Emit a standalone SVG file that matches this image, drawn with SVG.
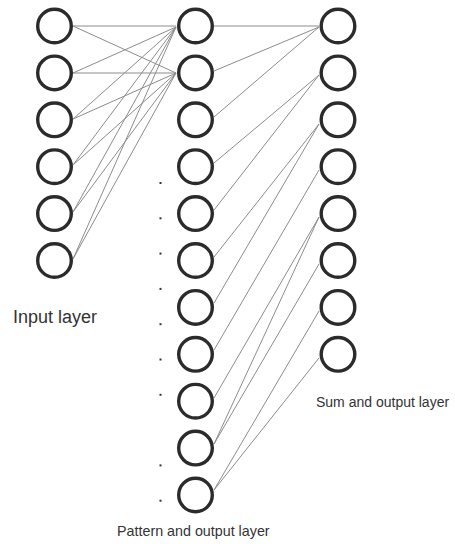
<svg xmlns="http://www.w3.org/2000/svg" width="455" height="544" viewBox="0 0 455 544">
  <style>
    .node { fill: none; stroke: #2b2b2b; stroke-width: 3.4; }
    .link { stroke: #8c8c8c; stroke-width: 1; fill: none; }
    .dot { fill: #333333; }
    .label { font-family: "Liberation Sans", Arial, sans-serif; fill: #333333; }
  </style>
  <rect width="455" height="544" fill="#ffffff"/>

  <!-- connectors -->
  <g id="connectors">
    <!-- input layer to first two pattern units -->
    <line class="link" x1="73" y1="26" x2="176" y2="26"/>
    <line class="link" x1="73" y1="26" x2="176" y2="73"/>
    <line class="link" x1="73" y1="73" x2="176" y2="27"/>
    <line class="link" x1="73" y1="73" x2="176" y2="73"/>
    <line class="link" x1="73" y1="119" x2="176" y2="27"/>
    <line class="link" x1="73" y1="119" x2="176" y2="73"/>
    <line class="link" x1="73" y1="165" x2="176" y2="27"/>
    <line class="link" x1="73" y1="165" x2="176" y2="73"/>
    <line class="link" x1="73" y1="212" x2="176" y2="27"/>
    <line class="link" x1="73" y1="212" x2="176" y2="73"/>
    <line class="link" x1="73" y1="259" x2="176" y2="27"/>
    <line class="link" x1="73" y1="259" x2="176" y2="73"/>
    <!-- pattern layer to sum layer -->
    <line class="link" x1="214" y1="26" x2="319" y2="26"/>
    <line class="link" x1="214" y1="71" x2="319" y2="27"/>
    <line class="link" x1="214" y1="117" x2="319" y2="27"/>
    <line class="link" x1="214" y1="163" x2="319" y2="75"/>
    <line class="link" x1="214" y1="210" x2="319" y2="75"/>
    <line class="link" x1="214" y1="257" x2="319" y2="124"/>
    <line class="link" x1="214" y1="303" x2="319" y2="124"/>
    <line class="link" x1="214" y1="350" x2="319" y2="170"/>
    <line class="link" x1="214" y1="398" x2="319" y2="217"/>
    <line class="link" x1="214" y1="444" x2="319" y2="217"/>
    <line class="link" x1="214" y1="444" x2="319" y2="264"/>
    <line class="link" x1="214" y1="490" x2="319" y2="311"/>
    <line class="link" x1="214" y1="490" x2="319" y2="358"/>
  </g>

  <!-- input layer -->
  <g id="input-1"><circle class="node" cx="54.5" cy="26" r="16.8"/></g>
  <g id="input-2"><circle class="node" cx="54.5" cy="72.9" r="16.8"/></g>
  <g id="input-3"><circle class="node" cx="54.5" cy="119.8" r="16.8"/></g>
  <g id="input-4"><circle class="node" cx="54.5" cy="166.7" r="16.8"/></g>
  <g id="input-5"><circle class="node" cx="54.5" cy="213.6" r="16.8"/></g>
  <g id="input-6"><circle class="node" cx="54.5" cy="260.5" r="16.8"/></g>

  <!-- pattern layer -->
  <g id="pattern-1"><circle class="node" cx="195.5" cy="26" r="16.8"/></g>
  <g id="pattern-2"><circle class="node" cx="195.5" cy="72.9" r="16.8"/></g>
  <g id="pattern-3"><circle class="node" cx="195.5" cy="119.8" r="16.8"/></g>
  <g id="pattern-4"><circle class="node" cx="195.5" cy="166.7" r="16.8"/></g>
  <g id="pattern-5"><circle class="node" cx="195.5" cy="213.6" r="16.8"/></g>
  <g id="pattern-6"><circle class="node" cx="195.5" cy="260.5" r="16.8"/></g>
  <g id="pattern-7"><circle class="node" cx="195.5" cy="307.4" r="16.8"/></g>
  <g id="pattern-8"><circle class="node" cx="195.5" cy="354.3" r="16.8"/></g>
  <g id="pattern-9"><circle class="node" cx="195.5" cy="401.2" r="16.8"/></g>
  <g id="pattern-10"><circle class="node" cx="195.5" cy="448.1" r="16.8"/></g>
  <g id="pattern-11"><circle class="node" cx="195.5" cy="495" r="16.8"/></g>

  <!-- ellipsis dots beside the pattern layer -->
  <g id="ellipsis">
    <rect class="dot" x="159.5" y="182" width="2" height="2"/>
    <rect class="dot" x="159.5" y="217.3" width="2" height="2"/>
    <rect class="dot" x="159.5" y="252.6" width="2" height="2"/>
    <rect class="dot" x="159.5" y="287.9" width="2" height="2"/>
    <rect class="dot" x="159.5" y="323.2" width="2" height="2"/>
    <rect class="dot" x="159.5" y="358.5" width="2" height="2"/>
    <rect class="dot" x="159.5" y="393.8" width="2" height="2"/>
    <rect class="dot" x="159.5" y="464.4" width="2" height="2"/>
    <rect class="dot" x="159.5" y="499.7" width="2" height="2"/>
  </g>

  <!-- sum layer -->
  <g id="sum-1"><circle class="node" cx="338" cy="26" r="16.8"/></g>
  <g id="sum-2"><circle class="node" cx="338" cy="72.9" r="16.8"/></g>
  <g id="sum-3"><circle class="node" cx="338" cy="119.8" r="16.8"/></g>
  <g id="sum-4"><circle class="node" cx="338" cy="166.7" r="16.8"/></g>
  <g id="sum-5"><circle class="node" cx="338" cy="213.6" r="16.8"/></g>
  <g id="sum-6"><circle class="node" cx="338" cy="260.5" r="16.8"/></g>
  <g id="sum-7"><circle class="node" cx="338" cy="307.4" r="16.8"/></g>
  <g id="sum-8"><circle class="node" cx="338" cy="354.3" r="16.8"/></g>

  <!-- layer captions -->
  <g id="labels">
    <text class="label" x="13" y="323" font-size="18">Input layer</text>
    <text class="label" x="117" y="536" font-size="14.3">Pattern and output layer</text>
    <text class="label" x="316" y="407" font-size="14">Sum and output layer</text>
  </g>
</svg>
